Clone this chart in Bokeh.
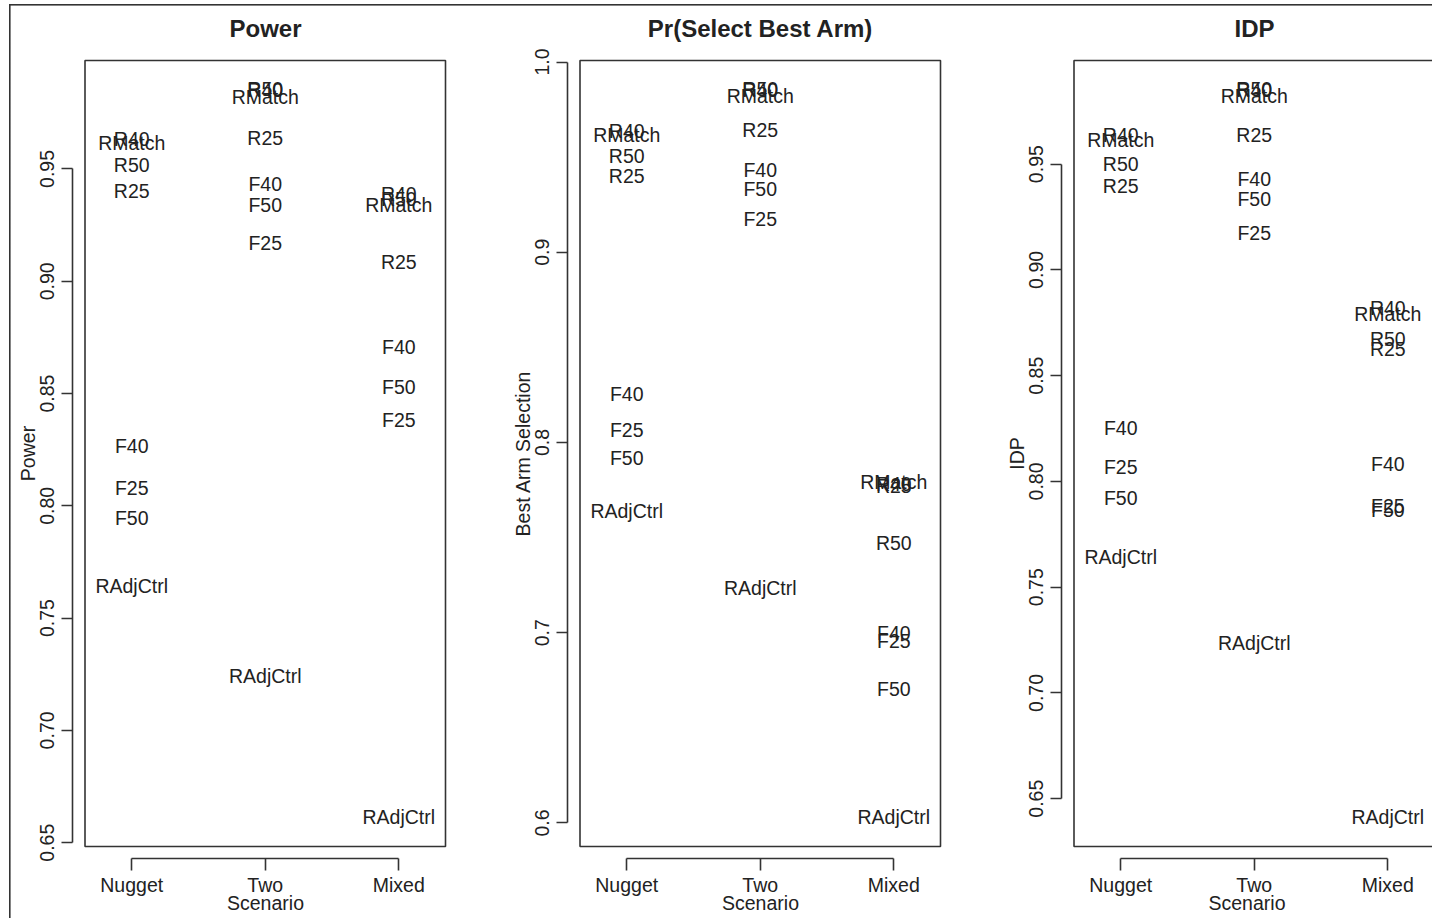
from bokeh.plotting import figure
from bokeh.layouts import row
from bokeh.models import ColumnDataSource, FixedTicker, Range1d
from bokeh.embed import file_html
from bokeh.resources import INLINE
from bokeh.core.properties import value

# ---------------- data ----------------
scenarios = ["Nugget", "Two", "Mixed"]
scenario_pos = [1, 2, 3]
designs = ["R25", "R40", "R50", "RMatch", "F25", "F40", "F50", "RAdjCtrl"]

# Power
power_nugget = [0.9402, 0.9634, 0.9518, 0.9616, 0.8080, 0.8267, 0.7946, 0.7643]
power_two    = [0.9638, 0.9852, 0.9856, 0.9821, 0.9171, 0.9433, 0.9340, 0.7243]
power_mixed  = [0.9086, 0.9389, 0.9366, 0.9340, 0.8382, 0.8707, 0.8529, 0.6615]

# Pr(Select Best Arm)
best_nugget = [0.9401, 0.9637, 0.9506, 0.9616, 0.8066, 0.8255, 0.7919, 0.7640]
best_two    = [0.9643, 0.9853, 0.9858, 0.9821, 0.9175, 0.9432, 0.9332, 0.7235]
best_mixed  = [0.7771, 0.7782, 0.7472, 0.7792, 0.6957, 0.6999, 0.6704, 0.6032]

# IDP
idp_nugget = [0.9396, 0.9637, 0.9500, 0.9613, 0.8068, 0.8252, 0.7922, 0.7643]
idp_two    = [0.9637, 0.9850, 0.9854, 0.9821, 0.9174, 0.9429, 0.9335, 0.7236]
idp_mixed  = [0.8626, 0.8819, 0.8673, 0.8791, 0.7884, 0.8082, 0.7865, 0.6414]

titles = ["Power", "Pr(Select Best Arm)", "IDP"]
ylabels = ["Power", "Best Arm Selection", "IDP"]
yticks_power = [0.65, 0.70, 0.75, 0.80, 0.85, 0.90, 0.95]
yticks_best = [0.6, 0.7, 0.8, 0.9, 1.0]
yticks_idp = [0.65, 0.70, 0.75, 0.80, 0.85, 0.90, 0.95]
ytick_fmt = ["%.2f", "%.1f", "%.2f"]
xlim = (0.65, 3.35)
ylims = [(0.6483, 0.9983), (0.5876, 1.0008), (0.6274, 0.9990)]

# ---------------- layout constants (pixels) ----------------
FONT = "Liberation Sans"
INK = "#222222"
LINE = "#333333"
H = 918
AXIS_L = 72          # frame left (axis line) within each figure
GAP = 12.5           # R axis offset from the plot box
BOX_W = 360.5
FRAME_TOP = 48
BOX_TOP = 60
BOX_H = 786
VGAP = 12
BORDER_BOTTOM = H - (BOX_TOP + BOX_H + VGAP)


def make_panel(i, series, yticks, fig_w, title_left_offset=None):
    ylo, yhi = ylims[i]
    pxx = BOX_W / (xlim[1] - xlim[0])
    pxy = BOX_H / (yhi - ylo)
    border_right = max(0, fig_w - round(AXIS_L + 2 * GAP + BOX_W))
    frame_right = fig_w - border_right
    box_l = AXIS_L + GAP
    x0 = xlim[0] - GAP / pxx
    x1 = xlim[0] + (frame_right - box_l) / pxx
    y0 = ylo - VGAP / pxy
    y1 = yhi + (BOX_TOP - FRAME_TOP) / pxy

    xs, ys, labs = [], [], []
    for pos, vals in zip(scenario_pos, series):
        for d, v in zip(designs, vals):
            xs.append(pos)
            ys.append(v)
            labs.append(d)
    src = ColumnDataSource(dict(x=xs, y=ys, label=labs))

    p = figure(width=fig_w, height=H, x_range=Range1d(x0, x1), y_range=Range1d(y0, y1),
               output_backend="svg", toolbar_location=None,
               min_border_left=AXIS_L, min_border_right=border_right,
               min_border_top=FRAME_TOP, min_border_bottom=BORDER_BOTTOM,
               title=titles[i])
    p.grid.visible = False
    p.outline_line_color = None
    p.background_fill_color = "white"
    p.border_fill_color = None

    p.title.text_font = FONT
    p.title.text_font_size = "24px"
    p.title.text_font_style = "bold"
    p.title.text_color = INK
    p.title.standoff = 13
    if title_left_offset is None:
        p.title.align = "center"
    else:
        p.title.align = "left"
        p.title.offset = title_left_offset

    # plot box (R's plot region)
    p.quad(left=[xlim[0]], right=[xlim[1]], bottom=[ylo], top=[yhi],
           fill_color=None, line_color=LINE, line_width=1.6)

    p.text(x="x", y="y", text="label", source=src, text_font=value(FONT),
           text_font_size="19.5px", text_align="center", text_baseline="middle",
           text_color=INK)

    xa = p.xaxis[0]
    xa.ticker = FixedTicker(ticks=scenario_pos)
    xa.major_label_overrides = {pos: s for pos, s in zip(scenario_pos, scenarios)}
    xa.bounds = (scenario_pos[0], scenario_pos[-1])
    xa.axis_label = "Scenario"
    ya = p.yaxis[0]
    ya.ticker = FixedTicker(ticks=yticks)
    ya.major_label_overrides = {t: ytick_fmt[i] % t for t in yticks}
    ya.bounds = (yticks[0], yticks[-1])
    ya.axis_label = ylabels[i]
    ya.major_label_orientation = "vertical"

    for ax in (xa, ya):
        ax.axis_line_color = LINE
        ax.axis_line_width = 1.6
        ax.major_tick_line_color = LINE
        ax.major_tick_line_width = 1.6
        ax.minor_tick_line_color = None
        ax.major_tick_in = 0
        ax.major_label_text_font = FONT
        ax.major_label_text_font_size = "19.5px"
        ax.major_label_text_color = INK
        ax.axis_label_text_font = FONT
        ax.axis_label_text_font_size = "19.5px"
        ax.axis_label_text_font_style = "normal"
        ax.axis_label_text_color = INK
    xa.major_tick_out = 12
    xa.major_label_standoff = 3
    xa.axis_label_standoff = -7
    ya.major_tick_out = 11
    ya.major_label_standoff = 7
    ya.axis_label_standoff = -1
    return p


p1 = make_panel(0, [power_nugget, power_two, power_mixed], yticks_power, 495)
p2 = make_panel(1, [best_nugget, best_two, best_mixed], yticks_best, 494)
p3 = make_panel(2, [idp_nugget, idp_two, idp_mixed], yticks_idp, 443, title_left_offset=173)

outer = ("linear-gradient(#333333,#333333) 8.5px 4px / 1.6px calc(100% - 4px) no-repeat, "
         "linear-gradient(#333333,#333333) 8.5px 4px / calc(100% - 8.5px) 1.6px no-repeat")
layout = row(p1, p2, p3, styles={"background": outer})

open("out.html", "w").write(file_html(layout, INLINE))
